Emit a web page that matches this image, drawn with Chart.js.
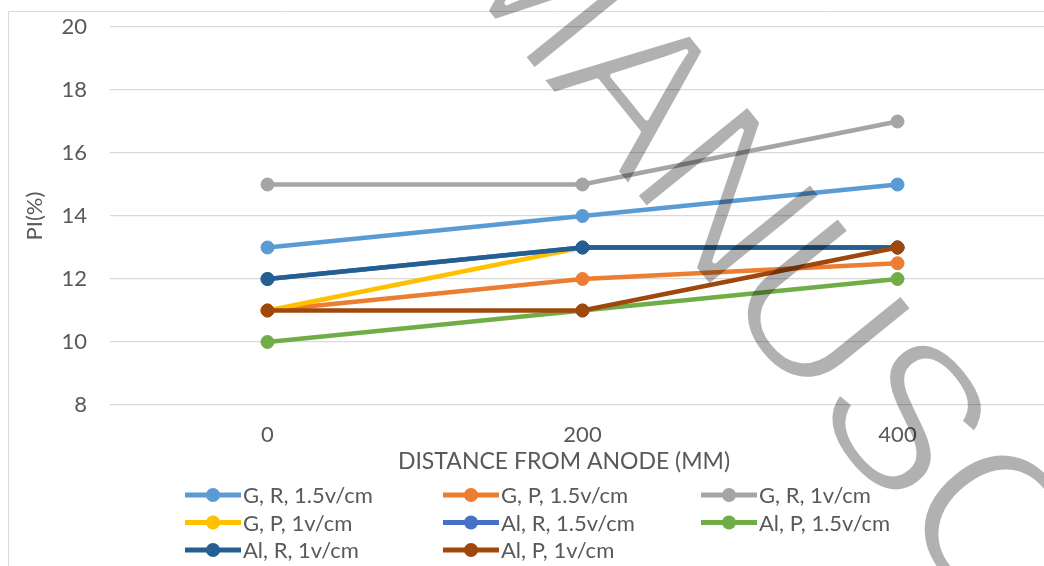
<!DOCTYPE html>
<html><head><meta charset="utf-8">
<script src="https://cdn.jsdelivr.net/npm/chart.js@4"></script>
<style>
html,body{margin:0;padding:0;background:#fff;overflow:hidden;width:1044px;height:566px}
#wrap{position:relative;width:1100px;height:566px}
</style>
</head><body><div id="wrap"><canvas id="c" width="1100" height="566"></canvas></div>
<script>
// ---- data ----
const categories = ['0', '200', '400'];
const seriesNames = ['G, R, 1.5v/cm', 'G, P, 1.5v/cm', 'G, R, 1v/cm', 'G, P, 1v/cm',
                     'Al, R, 1.5v/cm', 'Al, P, 1.5v/cm', 'Al, R, 1v/cm', 'Al, P, 1v/cm'];
const gR15  = [13, 14, 15];
const gP15  = [11, 12, 12.5];
const gR1   = [15, 15, 17];
const gP1   = [11, 13, 13];
const alR15 = [12, 13, 13];
const alP15 = [10, 11, 12];
const alR1  = [12, 13, 13];
const alP1  = [11, 11, 13];
const seriesValues = [gR15, gP15, gR1, gP1, alR15, alP15, alR1, alP1];
const seriesColors = ['#5B9BD5', '#ED7D31', '#A5A5A5', '#FFC000', '#4472C4', '#70AD47', '#255E91', '#9E480E'];
const yMin = 8, yMax = 20, yStep = 2;
const xTitle = 'DISTANCE FROM ANODE (MM)';
const yTitle = 'PI(%)';
const watermarkText = 'MANUSCRIPT';

const FONT = 'Lato';
const TXT = '#595959';

const datasets = seriesNames.map((name, i) => ({
  label: name,
  data: seriesValues[i],
  borderColor: seriesColors[i],
  backgroundColor: seriesColors[i],
  pointBackgroundColor: seriesColors[i],
  pointBorderColor: seriesColors[i],
  borderWidth: 4.5,
  pointRadius: 6.5,
  pointBorderWidth: 1,
  tension: 0,
  order: seriesNames.length - i
}));

const framePlugin = {
  id: 'frame',
  beforeDraw(chart) {
    const ctx = chart.ctx;
    ctx.save();
    ctx.fillStyle = '#fff';
    ctx.fillRect(0, 0, chart.width, chart.height);
    ctx.strokeStyle = '#d9d9d9';
    ctx.lineWidth = 1;
    ctx.beginPath();
    ctx.moveTo(8.5, chart.height + 5);
    ctx.lineTo(8.5, 11.5);
    ctx.lineTo(chart.width + 5, 11.5);
    ctx.stroke();
    ctx.restore();
  }
};

const textPlugin = {
  id: 'texts',
  afterDraw(chart) {
    const ctx = chart.ctx;
    ctx.save();
    // x axis title
    ctx.fillStyle = TXT;
    ctx.font = '23px ' + FONT;
    ctx.textAlign = 'center';
    ctx.textBaseline = 'middle';
    ctx.fillText(xTitle, 564, 462);
    // legend in a 3-column grid
    chart.data.datasets.forEach((ds, i) => {
      const col = i % 3, row = Math.floor(i / 3);
      const x0 = 185 + col * 258;
      const y = 495 + row * 27.5;
      ctx.strokeStyle = ds.borderColor;
      ctx.lineWidth = 5;
      ctx.beginPath();
      ctx.moveTo(x0, y);
      ctx.lineTo(x0 + 56, y);
      ctx.stroke();
      ctx.fillStyle = ds.borderColor;
      ctx.beginPath();
      ctx.arc(x0 + 28, y, 7, 0, Math.PI * 2);
      ctx.fill();
      ctx.fillStyle = TXT;
      ctx.font = '22px ' + FONT;
      ctx.textBaseline = 'middle';
      ctx.textAlign = 'left';
      ctx.fillText(ds.label, x0 + 58, y + 1);
    });
    ctx.restore();
  }
};

const watermarkPlugin = {
  id: 'watermark',
  afterDraw(chart) {
    const off = document.createElement('canvas');
    off.width = chart.width; off.height = chart.height;
    const o = off.getContext('2d');
    o.translate(435, -52);
    o.rotate(51 * Math.PI / 180);
    o.font = '210px "Liberation Sans"';
    if ('letterSpacing' in o) o.letterSpacing = '-7px';
    o.textBaseline = 'alphabetic';
    o.textAlign = 'left';
    o.fillStyle = '#000';
    o.fillText(watermarkText, 0, 0);
    // thin the strokes a little
    o.globalCompositeOperation = 'destination-out';
    o.lineWidth = 5;
    o.lineJoin = 'round';
    o.strokeStyle = '#000';
    o.strokeText(watermarkText, 0, 0);
    const ctx = chart.ctx;
    ctx.save();
    ctx.globalAlpha = 0.3;
    ctx.drawImage(off, 0, 0);
    ctx.restore();
  }
};

new Chart(document.getElementById('c'), {
  type: 'line',
  data: { labels: categories, datasets },
  options: {
    responsive: false,
    animation: false,
    layout: { padding: { left: 0, right: 45, top: 27, bottom: 0 } },
    plugins: { legend: { display: false }, tooltip: { enabled: false } },
    scales: {
      x: {
        type: 'category',
        offset: true,
        grid: { display: false, drawTicks: false },
        border: { display: false },
        ticks: { color: TXT, font: { family: FONT, size: 22 }, padding: 17 },
        title: { display: false },
        afterFit(s) { s.height = 161; }
      },
      y: {
        min: yMin, max: yMax,
        ticks: { stepSize: yStep, color: TXT, font: { family: FONT, size: 22 }, padding: 23 },
        grid: { color: '#d9d9d9', lineWidth: 1.3, drawTicks: false },
        border: { display: false },
        title: { display: true, text: yTitle, color: TXT, font: { family: FONT, size: 22 }, padding: { top: 22, bottom: 0 } },
        afterFit(s) { s.width = 110; s.paddingTop = 0; s.paddingBottom = 0; }
      }
    }
  },
  plugins: [framePlugin, textPlugin, watermarkPlugin]
});
</script>
</body></html>
